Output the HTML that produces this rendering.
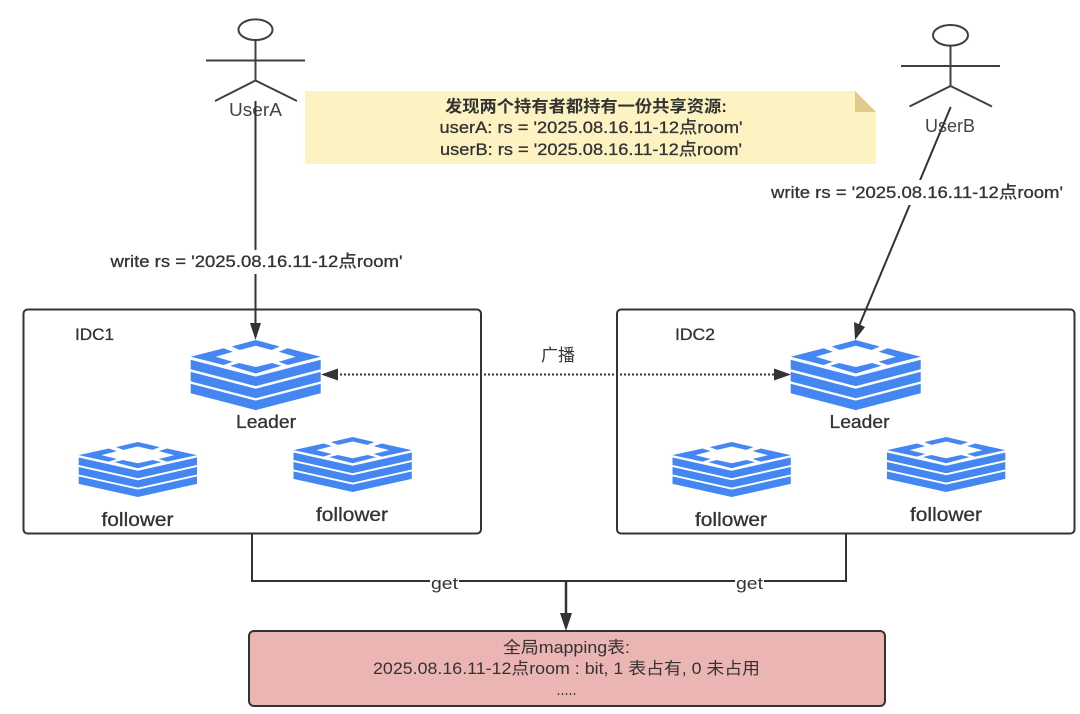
<!DOCTYPE html>
<html><head><meta charset="utf-8"><style>
html,body{margin:0;padding:0;background:#fff;width:1080px;height:714px;overflow:hidden}
svg{display:block;filter:blur(.35px)}
text{font-family:"Liberation Sans","Noto Sans CJK SC",sans-serif;fill:#333;text-anchor:middle;stroke:none}
.m{stroke:#333;stroke-width:.3px}
</style></head><body>
<svg width="1080" height="714" viewBox="0 0 1080 714" xmlns="http://www.w3.org/2000/svg">
<defs>
<g id="ic" fill="#4486f2">
<path d="M0 19.8L65 36.6 130 19.8V29.3L65 46.1 0 29.3Z"/>
<path d="M0 31.9L65 48.7 130 31.9V41.4L65 58.2 0 41.4Z"/>
<path d="M0 43.8L65 60.6 130 43.8V53.3L65 70.1 0 53.3Z"/>
<path d="M41 6.500L65 0 89 6.500 81 10 65 5.800 49 10Z"/>
<path d="M39.300 25.700L48.600 23 65 27 81.400 23 90.700 25.700 65 33.500Z"/>
<path d="M0 16.700L33 8.300 42 11.700 25 16.700 42 21.700 33 25Z"/>
<path d="M130 16.700L97 8.300 88 11.700 105 16.700 88 21.700 97 25Z"/>
</g>
</defs>
<rect width="1080" height="714" fill="#fff"/>

<!-- note -->
<path d="M305 91H855L876 112V164H305Z" fill="#fdf3c2"/>
<path d="M855 91L876 112H855Z" fill="#e0cb8b"/>
<text x="586" y="112" font-size="16.500" font-weight="bold" textLength="282" lengthAdjust="spacingAndGlyphs">发现两个持有者都持有一份共享资源:</text>
<text x="591" y="133" font-size="17" class="m" textLength="303" lengthAdjust="spacingAndGlyphs">userA: rs = '2025.08.16.11-12点room'</text>
<text x="591" y="155" font-size="17" class="m" textLength="302" lengthAdjust="spacingAndGlyphs">userB: rs = '2025.08.16.11-12点room'</text>

<!-- boxes -->
<rect x="23.500" y="309.500" width="457.500" height="224" rx="4" fill="#fff" stroke="#333" stroke-width="2"/>
<rect x="617" y="309.500" width="457.500" height="224" rx="4" fill="#fff" stroke="#333" stroke-width="2"/>
<rect x="249" y="631" width="636" height="75" rx="5" fill="#ebb5b3" stroke="#333" stroke-width="2"/>

<!-- actors -->
<g fill="none" stroke="#3c4046" stroke-width="2">
<ellipse cx="255.500" cy="29.700" rx="17" ry="10.300"/>
<path d="M255.500 40V80.500M206 60.500H305M215 101L255.500 80.500 297 101"/>
<ellipse cx="950.500" cy="35.300" rx="17.500" ry="10.300"/>
<path d="M950.500 45.700V86M901 66H1000M909.500 106.500L950.500 86 992 106.500"/>
</g>
<text x="255.500" y="116" font-size="18" style="fill:#444" textLength="53" lengthAdjust="spacingAndGlyphs">UserA</text>
<text x="950" y="132" font-size="18" style="fill:#444" textLength="50" lengthAdjust="spacingAndGlyphs">UserB</text>

<!-- connectors -->
<g fill="none" stroke="#333" stroke-width="2">
<path d="M255.500 101V325"/>
<path d="M950.700 107L859 326"/>
<path d="M252 534V581H846V534"/>
<path d="M566 581V616" stroke-width="2.500"/>
<path d="M336 374.500H776" stroke-dasharray="2 2"/>
</g>
<g fill="#333">
<path d="M255.500 340L250 323H261Z"/>
<path d="M855 340L854 322 865 327Z"/>
<path d="M566 631L560 613H572Z"/>
<path d="M321 374.500L338 368.500V380.500Z"/>
<path d="M791 374.500L774 368.500V380.500Z"/>
</g>

<!-- icons -->
<use href="#ic" transform="translate(190.700 340)"/>
<use href="#ic" transform="translate(790.700 340)"/>
<use href="#ic" transform="translate(78.700 442) scale(.91 .785)"/>
<use href="#ic" transform="translate(293.500 437) scale(.91 .785)"/>
<use href="#ic" transform="translate(672.500 442) scale(.91 .785)"/>
<use href="#ic" transform="translate(887 437) scale(.91 .785)"/>

<!-- labels -->
<text x="94.500" y="340" font-size="17" class="m" textLength="39" lengthAdjust="spacingAndGlyphs">IDC1</text>
<text x="695" y="340" font-size="17" class="m" textLength="40" lengthAdjust="spacingAndGlyphs">IDC2</text>
<text x="266" y="428" font-size="18.500" class="m" textLength="60" lengthAdjust="spacingAndGlyphs">Leader</text>
<text x="859.500" y="428" font-size="18.500" class="m" textLength="60" lengthAdjust="spacingAndGlyphs">Leader</text>
<text x="137.500" y="526" font-size="19" class="m" textLength="72" lengthAdjust="spacingAndGlyphs">follower</text>
<text x="352" y="521" font-size="19" class="m" textLength="72" lengthAdjust="spacingAndGlyphs">follower</text>
<text x="731" y="526" font-size="19" class="m" textLength="72" lengthAdjust="spacingAndGlyphs">follower</text>
<text x="946" y="521" font-size="19" class="m" textLength="72" lengthAdjust="spacingAndGlyphs">follower</text>

<rect x="108" y="250" width="297" height="24" fill="#fff"/>
<text x="256.500" y="267" font-size="17" class="m" textLength="292" lengthAdjust="spacingAndGlyphs">write rs = '2025.08.16.11-12点room'</text>
<rect x="769" y="180" width="296" height="25" fill="#fff"/>
<text x="917" y="198" font-size="17" class="m" textLength="292" lengthAdjust="spacingAndGlyphs">write rs = '2025.08.16.11-12点room'</text>
<text x="558" y="361" font-size="17" textLength="34" lengthAdjust="spacingAndGlyphs">广播</text>

<rect x="430" y="574" width="29" height="18" fill="#fff"/>
<text x="444.500" y="589" font-size="17" textLength="27" lengthAdjust="spacingAndGlyphs">get</text>
<rect x="735" y="574" width="29" height="18" fill="#fff"/>
<text x="749.500" y="589" font-size="17" textLength="27" lengthAdjust="spacingAndGlyphs">get</text>

<text x="566.500" y="653" font-size="16.500" textLength="127" lengthAdjust="spacingAndGlyphs">全局mapping表:</text>
<text x="566.500" y="674" font-size="16.500" textLength="387" lengthAdjust="spacingAndGlyphs">2025.08.16.11-12点room : bit, 1 表占有, 0 未占用</text>
<text x="566.500" y="695" font-size="16.500" textLength="20" lengthAdjust="spacingAndGlyphs">.....</text>
</svg>
</body></html>
